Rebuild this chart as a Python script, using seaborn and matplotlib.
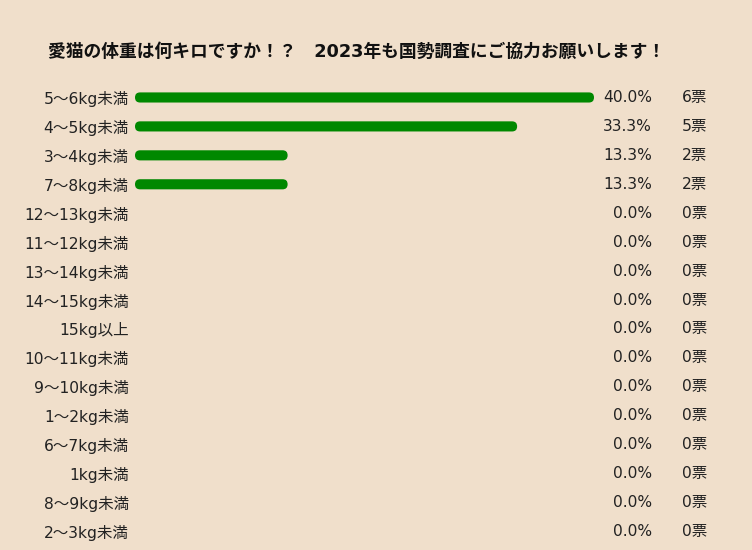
import matplotlib
matplotlib.use("Agg")
import matplotlib.pyplot as plt
import seaborn as sns
import pandas as pd
from matplotlib.patches import FancyBboxPatch

categories = ["5～6kg未満", "4～5kg未満", "3～4kg未満", "7～8kg未満", "12～13kg未満",
              "11～12kg未満", "13～14kg未満", "14～15kg未満", "15kg以上", "10～11kg未満",
              "9～10kg未満", "1～2kg未満", "6～7kg未満", "1kg未満", "8～9kg未満", "2～3kg未満"]
percents = [40.0, 33.3, 13.3, 13.3, 0.0, 0.0, 0.0, 0.0, 0.0, 0.0, 0.0, 0.0, 0.0, 0.0, 0.0, 0.0]
votes = [6, 5, 2, 2, 0, 0, 0, 0, 0, 0, 0, 0, 0, 0, 0, 0]
title = "愛猫の体重は何キロですか！？　2023年も国勢調査にご協力お願いします！"

BG = "#F0DFCB"
GREEN = "#008800"
TEXT = "#222222"

sns.set_theme(style="white")
plt.rcParams['font.family'] = ['DejaVu Sans', 'Noto Sans CJK JP']

df = pd.DataFrame({"category": categories, "percent": percents, "votes": votes})

W, H = 752, 550
fig = plt.figure(figsize=(W / 100, H / 100), dpi=100, facecolor=BG)
left_px, right_px = 135, 594
top_px, bottom_px = 83.0, 546.0
ax = fig.add_axes([left_px / W, 1 - bottom_px / H, (right_px - left_px) / W, (bottom_px - top_px) / H])
ax.set_facecolor(BG)

sns.barplot(data=df, x="percent", y="category", orient="h", color=GREEN,
            width=0.35, ax=ax, saturation=1)
ax.set_xlim(0, 40)
ax.set_ylim(len(categories) - 0.5, -0.5)

# replace rectangles by rounded bars
px_per_x = (right_px - left_px) / 40
px_per_y = (bottom_px - top_px) / len(categories)
aspect = (1 / px_per_y) / (1 / px_per_x)
patches = list(ax.patches)
for p in patches:
    x0, y0, w, h = p.get_x(), p.get_y(), p.get_width(), p.get_height()
    p.remove()
    if w <= 0:
        continue
    r = h / aspect / 2
    fb = FancyBboxPatch((x0, y0), w, h,
                        boxstyle=f"round,pad=0,rounding_size={r}",
                        mutation_aspect=aspect, facecolor=GREEN, edgecolor="none")
    ax.add_patch(fb)

for sp in ax.spines.values():
    sp.set_visible(False)
ax.set_xticks([])
ax.set_xlabel("")
ax.set_ylabel("")
ax.tick_params(axis="y", length=0, pad=4.5, labelsize=11.2, labelcolor=TEXT)

pct_x = (652 - left_px) / px_per_x
vote_x = (707 - left_px) / px_per_x
for i, (pc, v) in enumerate(zip(percents, votes)):
    ax.text(pct_x, i, f"{pc:.1f}%", ha="right", va="center", fontsize=11.2,
            color=TEXT, clip_on=False)
    ax.text(vote_x, i, f"{v}票", ha="right", va="center", fontsize=11.2,
            color=TEXT, clip_on=False)

fig.text(357 / W, 1 - 52 / H, title, ha="center", va="center", fontsize=12.8,
         fontweight="bold", color="#111111")

fig.savefig("out.png", dpi=100, facecolor=BG)
